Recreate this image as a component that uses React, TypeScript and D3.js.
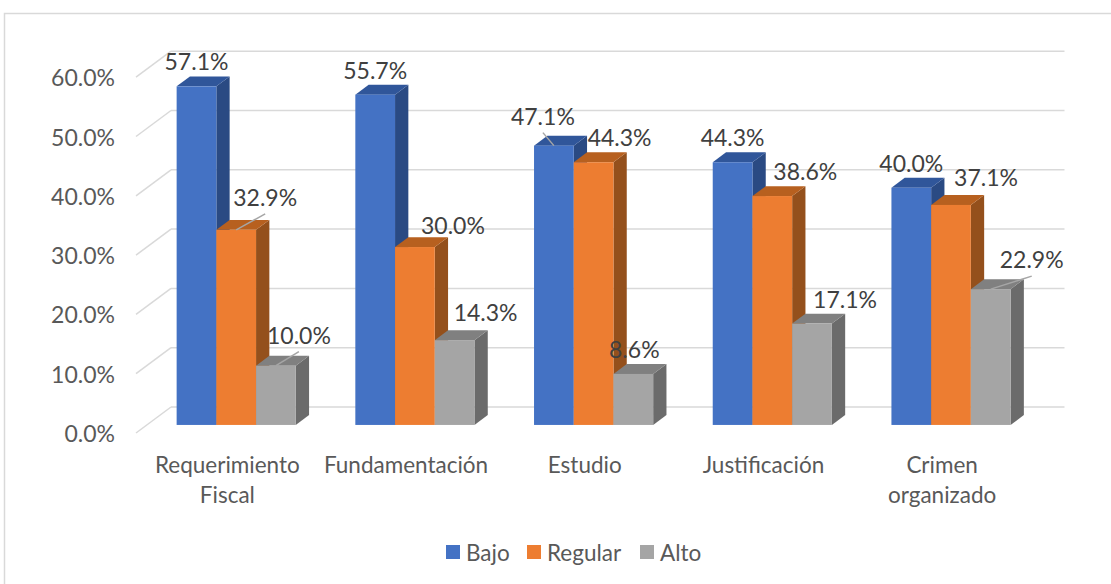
import React from "react";
import * as d3 from "d3";

const categories = ["Requerimiento Fiscal", "Fundamentación", "Estudio", "Justificación", "Crimen organizado"];
const seriesNames = ["Bajo", "Regular", "Alto"];
const bajo = [57.1, 55.7, 47.1, 44.3, 40.0];
const regular = [32.9, 30.0, 44.3, 38.6, 37.1];
const alto = [10.0, 14.3, 8.6, 17.1, 22.9];
const yTicks = [0, 10, 20, 30, 40, 50, 60];

// layout: label nudges (dx, dy) relative to default spot, and leader flags
const labelShift: [number, number][][] = [
  [[0, 0], [0, 0], [-11, -5], [0, 0], [0, 0]],
  [[29, -8], [38, 3], [26, 0], [33, 0], [35, -3]],
  [[23, -6], [31, -3], [1, 0], [33, 0], [41, -5]],
];
const leader: boolean[][] = [
  [false, false, true, false, false],
  [true, false, false, false, false],
  [true, false, false, false, true],
];

const colors = {
  front: ["#4472C4", "#ED7D31", "#A5A5A5"],
  top: ["#30569A", "#B7601F", "#808080"],
  side: ["#2A4A83", "#94501C", "#6B6B6B"],
};

const W = 1111, H = 584;
const FX = 136, FX2 = 1029.5;
const DX = 35, DY = -26;
const D0 = 0.31, D1 = 0.69;
const FONT = "Lato, 'Open Sans', sans-serif";
const FS = 22.5;
const FSN = 23;

export default function App() {
  const values = [bajo, regular, alto];
  const y = d3.scaleLinear().domain([0, 60]).range([433, 77.2]);
  const x = d3.scaleBand<string>().domain(categories).range([FX, FX2]).paddingInner(0).paddingOuter(0);
  const bw = x.bandwidth();
  const barW = bw / 4.5;
  const xs = d3.scaleBand<string>().domain(seriesNames).range([0.75 * barW, 3.75 * barW]).padding(0);

  const bars: React.ReactNode[] = [];
  const labels: React.ReactNode[] = [];
  categories.forEach((c, ci) => {
    seriesNames.forEach((s, si) => {
      const v = values[si][ci];
      const x0 = (x(c) as number) + (xs(s) as number) + DX * D0;
      const x1 = x0 + barW;
      const yb = y(0) + DY * D0;
      const yt = y(v) + DY * D0;
      const ddx = DX * (D1 - D0), ddy = DY * (D1 - D0);
      bars.push(
        <g key={`b${ci}${si}`}>
          <polygon points={`${x1},${yt} ${x1 + ddx},${yt + ddy} ${x1 + ddx},${yb + ddy} ${x1},${yb}`} fill={colors.side[si]} />
          <polygon points={`${x0},${yt} ${x1},${yt} ${x1 + ddx},${yt + ddy} ${x0 + ddx},${yt + ddy}`} fill={colors.top[si]} />
          <rect x={x0} y={yt} width={barW} height={yb - yt} fill={colors.front[si]} />
        </g>
      );
      const cx = (x0 + x1) / 2;
      const [sx, sy] = labelShift[si][ci];
      const lx = cx + sx, ly = yt - 25 + sy;
      if (leader[si][ci]) {
        labels.push(
          <line key={`l${ci}${si}`} x1={cx} y1={yt} x2={lx} y2={ly + 17} stroke="#A6A6A6" strokeWidth={1.5} />
        );
      }
      labels.push(
        <text key={`t${ci}${si}`} x={lx} y={ly} textAnchor="middle" dominantBaseline="central"
          fontFamily={FONT} fontSize={FSN} fill="#404040">{v.toFixed(1)}%</text>
      );
    });
  });

  const legendX = [446, 527, 640];

  return (
    <svg width={W} height={H} style={{ position: "absolute", left: 0, top: 0, background: "#fff" }}>
      <rect x={4.5} y={13.5} width={1200} height={700} fill="#fff" stroke="#D9D9D9" strokeWidth={1.5} />
      {yTicks.map((t) => (
        <g key={`g${t}`}>
          <line x1={FX} y1={y(t)} x2={FX + DX} y2={y(t) + DY} stroke="#D9D9D9" strokeWidth={1.5} />
          <line x1={FX + DX} y1={y(t) + DY} x2={FX2 + DX} y2={y(t) + DY} stroke="#D9D9D9" strokeWidth={1.5} />
          <text x={115} y={y(t)} textAnchor="end" dominantBaseline="central" fontFamily={FONT} fontSize={FSN} fill="#595959">
            {t.toFixed(1)}%
          </text>
        </g>
      ))}
      {bars}
      {labels}
      {categories.map((c) => {
        const lines = c.split(" ");
        return (
          <text key={`c${c}`} textAnchor="middle" fontFamily={FONT} fontSize={FS} fill="#595959">
            {lines.map((ln, i) => (
              <tspan key={i} x={(x(c) as number) + bw / 2 + 2} y={464 + i * 30} dominantBaseline="central">{ln}</tspan>
            ))}
          </text>
        );
      })}
      {seriesNames.map((s, i) => (
        <g key={`lg${s}`}>
          <rect x={legendX[i]} y={545} width={14} height={14} fill={colors.front[i]} />
          <text x={legendX[i] + 20} y={552} dominantBaseline="central" fontFamily={FONT} fontSize={FS} fill="#595959">{s}</text>
        </g>
      ))}
    </svg>
  );
}
